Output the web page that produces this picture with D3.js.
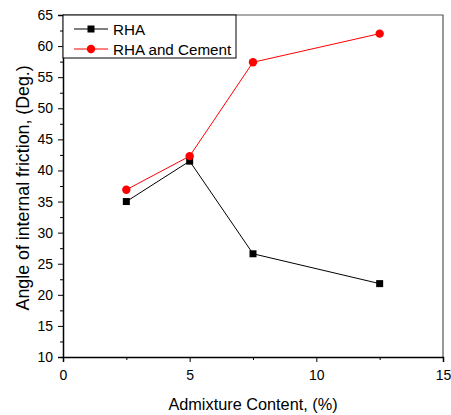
<!DOCTYPE html>
<html>
<head>
<meta charset="utf-8">
<script src="https://cdn.jsdelivr.net/npm/d3@7"></script>
<style>
  body { margin: 0; background: #fff; }
  text { font-family: "Liberation Sans", Arial, sans-serif; }
</style>
</head>
<body>
<div id="chart"></div>
<script>
// data
const content = [2.5, 5, 7.5, 12.5];
const rha = [35.0, 41.5, 26.6, 21.8];
const rhaCement = [36.9, 42.3, 57.4, 62.0];
const xTicks = [0, 5, 10, 15];
const yTicks = [10, 15, 20, 25, 30, 35, 40, 45, 50, 55, 60, 65];

const width = 451, height = 415;
const margin = {top: 15, right: 8, bottom: 58, left: 63};

const svg = d3.select("#chart").append("svg")
  .attr("width", width)
  .attr("height", height);

const x = d3.scaleLinear().domain([0, 15]).range([margin.left, width - margin.right]);
const y = d3.scaleLinear().domain([10, 65]).range([height - margin.bottom, margin.top]);

// frame (top & right)
svg.append("path")
  .attr("d", `M${x(0)},${y(65)}H${x(15)}V${y(10)}`)
  .attr("fill", "none")
  .attr("stroke", "#555")
  .attr("stroke-width", 1.2);

// x axis
const gx = svg.append("g").attr("transform", `translate(0,${y(10)})`);
gx.call(d3.axisBottom(x).tickValues(d3.range(0, 15.1, 2.5)).tickSize(5).tickPadding(8)
  .tickFormat(d => xTicks.includes(d) ? d : ""));
gx.selectAll(".tick line").attr("y2", d => xTicks.includes(d) ? 5 : 3);

// y axis
const gy = svg.append("g").attr("transform", `translate(${x(0)},0)`);
gy.call(d3.axisLeft(y).tickValues(d3.range(10, 65.1, 2.5)).tickSize(5).tickPadding(5)
  .tickFormat(d => yTicks.includes(d) ? d : ""));
gy.selectAll(".tick line").attr("x2", d => yTicks.includes(d) ? -5 : -3);

svg.selectAll(".domain").attr("stroke-width", 1.5);
svg.selectAll(".tick text").attr("font-size", 14).attr("fill", "#000")
  .style("font-family", "'Liberation Sans', Arial, sans-serif");

// axis titles
svg.append("text")
  .attr("x", x(7.5)).attr("y", 410)
  .attr("text-anchor", "middle")
  .attr("font-size", 16.3)
  .text("Admixture Content, (%)");

svg.append("text")
  .attr("transform", `translate(29,${y(37.2)}) rotate(-90)`)
  .attr("text-anchor", "middle")
  .attr("font-size", 17.8)
  .text("Angle of internal friction, (Deg.)");

// series
const line = d3.line().x(d => x(d[0])).y(d => y(d[1]));
const s1 = content.map((c, i) => [c, rha[i]]);
const s2 = content.map((c, i) => [c, rhaCement[i]]);

svg.append("path").datum(s1).attr("d", line)
  .attr("fill", "none").attr("stroke", "#000").attr("stroke-width", 1);
svg.append("path").datum(s2).attr("d", line)
  .attr("fill", "none").attr("stroke", "#ff0000").attr("stroke-width", 1);

svg.selectAll(".sq").data(s1).enter().append("rect")
  .attr("x", d => x(d[0]) - 3.5).attr("y", d => y(d[1]) - 3.5)
  .attr("width", 7).attr("height", 7).attr("fill", "#000");
svg.selectAll(".ci").data(s2).enter().append("circle")
  .attr("cx", d => x(d[0])).attr("cy", d => y(d[1]))
  .attr("r", 4.2).attr("fill", "#ff0000");

// legend
const lg = svg.append("g");
lg.append("rect")
  .attr("x", x(0)).attr("y", y(65))
  .attr("width", 173).attr("height", 43)
  .attr("fill", "#fff").attr("stroke", "#000").attr("stroke-width", 1);
const items = [{name: "RHA", color: "#000", shape: "sq"}, {name: "RHA and Cement", color: "#ff0000", shape: "ci"}];
items.forEach((it, i) => {
  const cy = y(65) + 14 + i * 20;
  lg.append("line").attr("x1", 74).attr("x2", 108).attr("y1", cy).attr("y2", cy)
    .attr("stroke", it.color).attr("stroke-width", 1);
  if (it.shape === "sq") {
    lg.append("rect").attr("x", 91 - 3.5).attr("y", cy - 3.5).attr("width", 7).attr("height", 7).attr("fill", it.color);
  } else {
    lg.append("circle").attr("cx", 91).attr("cy", cy).attr("r", 4.2).attr("fill", it.color);
  }
  lg.append("text").attr("x", 113).attr("y", cy + 5.5).attr("font-size", 15.2).text(it.name);
});
</script>
</body>
</html>
